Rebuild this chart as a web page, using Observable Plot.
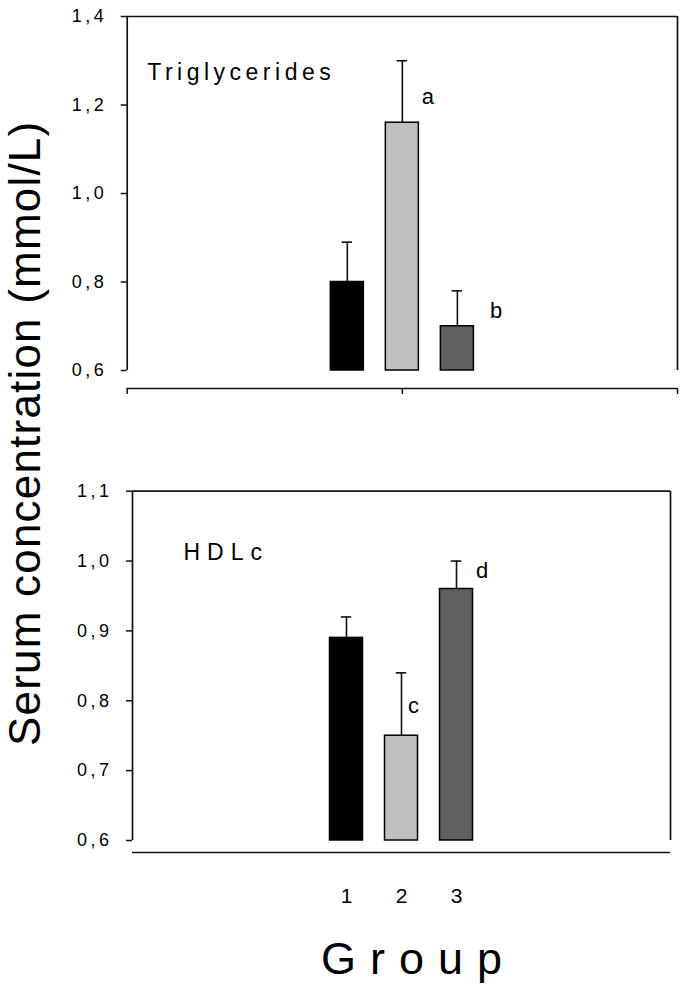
<!DOCTYPE html>
<html><head><meta charset="utf-8">
<script src="https://cdn.jsdelivr.net/npm/d3@7"></script>
<script src="https://cdn.jsdelivr.net/npm/@observablehq/plot@0.6"></script>
<style>
body{margin:0;background:#fff;}
#chart{position:relative;width:685px;height:990px;font-family:"Liberation Sans",Arial,sans-serif;color:#000;overflow:hidden;}
#chart svg{position:absolute;left:0;}
.abs{position:absolute;white-space:nowrap;line-height:1;}
</style></head><body><div id="chart"></div>
<script>
// ---- data ----
const groups = [1, 2, 3];
const groupColors = ["#000000", "#c0c0c0", "#606060"];
const tgMean = [0.80, 1.16, 0.70];
const tgSE = [0.09, 0.14, 0.08];
const hdlMean = [0.89, 0.75, 0.96];
const hdlSE = [0.03, 0.09, 0.04];
const tgTicks = [0.6, 0.8, 1.0, 1.2, 1.4];
const hdlTicks = [0.6, 0.7, 0.8, 0.9, 1.0, 1.1];
const tgLetters = [{group: 2, letter: "a"}, {group: 3, letter: "b"}];
const hdlLetters = [{group: 2, letter: "c"}, {group: 3, letter: "d"}];
const panelTitles = ["Triglycerides", "HDLc"];
const yTitle = "Serum concentration (mmol/L)";
const xTitle = "Group";

// ---- styling (pixel offsets for letter annotations) ----
const letterOffset = {a: [3, 5], b: [16, 2], c: [-10, 2], d: [3, -4]};
const FONT = '"Liberation Sans", Arial, sans-serif';
const LINE = "#111";
const fmt = d => d.toFixed(1).replace(".", ",");

function rowsOf(means, ses) {
  return groups.map((g, i) => ({group: g, mean: means[i], se: ses[i], color: groupColors[i]}));
}

function panelMarks(rows, letters, xDom, yDom, title, titleDx, titleDy) {
  return [
    Plot.rect(rows, {x1: d => d.group - 0.3, x2: d => d.group + 0.3, y1: yDom[0], y2: "mean",
      fill: "color", stroke: "#000", strokeWidth: 1.5}),
    Plot.ruleX(rows, {x: "group", y1: "mean", y2: d => d.mean + d.se, stroke: LINE, strokeWidth: 1.6}),
    Plot.ruleY(rows, {y: d => d.mean + d.se, x1: d => d.group - 0.095, x2: d => d.group + 0.095, stroke: LINE, strokeWidth: 1.6}),
    Plot.ruleX(xDom, {y1: yDom[0], y2: yDom[1], stroke: LINE, strokeWidth: 1.7}),
    Plot.ruleY([yDom[1]], {x1: xDom[0], x2: xDom[1], stroke: LINE, strokeWidth: 1.7}),
    ...letters.map(l => {
      const r = rows.find(d => d.group === l.group);
      return Plot.text([l], {x: d => d.group + 0.3, y: () => r.mean + r.se / 2, text: "letter",
        textAnchor: "start", lineAnchor: "middle", fontSize: 22,
        dx: letterOffset[l.letter][0], dy: letterOffset[l.letter][1]});
    }),
    Plot.text([title], {frameAnchor: "top-left", textAnchor: "start", lineAnchor: "top",
      dx: titleDx, dy: titleDy, fontSize: 23})
  ];
}

const chart = document.getElementById("chart");

// ---- top panel: triglycerides ----
const xDomTop = [-3, 7];
const yDomTop = [0.6, 1.4];
const topRows = rowsOf(tgMean, tgSE);
const topPlot = Plot.plot({
  width: 685, height: 400,
  marginLeft: 126.7, marginRight: 8, marginTop: 16, marginBottom: 12, insetBottom: 18,
  style: {fontFamily: FONT, fontSize: "18px", color: "#000", background: "transparent", overflow: "visible"},
  x: {domain: xDomTop, axis: null},
  y: {domain: yDomTop, axis: null},
  color: {type: "identity"},
  marks: [
    Plot.axisY({ticks: tgTicks, tickFormat: fmt, tickSize: 6, tickPadding: 14, label: null, fontSize: 18, stroke: LINE, strokeWidth: 1.5}),
    Plot.axisX({ticks: [xDomTop[0], 2, xDomTop[1]], tickFormat: () => "", tickSize: 6, label: null, stroke: LINE, strokeWidth: 1.5}),
    Plot.ruleY([yDomTop[0]], {x1: xDomTop[0], x2: xDomTop[1], dy: 18, stroke: LINE, strokeWidth: 1.7}),
    ...panelMarks(topRows, tgLetters, xDomTop, yDomTop, panelTitles[0], 20, 47.5)
  ]
});
topPlot.style.top = "0px";
chart.appendChild(topPlot);

// ---- bottom panel: HDLc ----
const xDomBot = [-2.89, 6.89];
const yDomBot = [0.6, 1.1];
const botRows = rowsOf(hdlMean, hdlSE);
const botPlot = Plot.plot({
  width: 685, height: 590,
  marginLeft: 132, marginRight: 15, marginTop: 90.7, marginBottom: 138, insetBottom: 12,
  style: {fontFamily: FONT, fontSize: "18px", color: "#000", background: "transparent", overflow: "visible"},
  x: {domain: xDomBot, axis: null},
  y: {domain: yDomBot, axis: null},
  color: {type: "identity"},
  marks: [
    Plot.axisY({ticks: hdlTicks, tickFormat: fmt, tickSize: 6, tickPadding: 14, label: null, fontSize: 18, stroke: LINE, strokeWidth: 1.5}),
    Plot.axisX({ticks: groups, tickFormat: d => String(d), tickSize: 0, tickPadding: 36, label: null, fontSize: 21}),
    Plot.ruleY([yDomBot[0]], {x1: xDomBot[0], x2: xDomBot[1], dy: 12, stroke: LINE, strokeWidth: 1.7}),
    ...panelMarks(botRows, hdlLetters, xDomBot, yDomBot, panelTitles[1], 51, 52)
  ]
});
botPlot.style.top = "400px";
chart.appendChild(botPlot);

// font size / letter spacing tweaks
for (const svg of [topPlot, botPlot]) {
  d3.select(svg).selectAll("g[aria-label='y-axis tick label'] text")
    .style("letter-spacing", "3.5px").style("font-size", "18px");
  d3.select(svg).selectAll("g[aria-label='x-axis tick label'] text").style("font-size", "21px");
}
d3.selectAll("#chart svg text").filter(function() { return this.textContent === panelTitles[0]; })
  .style("letter-spacing", "4.5px").style("font-size", "23px");
d3.selectAll("#chart svg text").filter(function() { return this.textContent === panelTitles[1]; })
  .style("letter-spacing", "7px").style("font-size", "23px");

// ---- axis titles ----
const yt = document.createElement("div");
yt.className = "abs";
yt.textContent = yTitle;
Object.assign(yt.style, {left: "3px", top: "746px", fontSize: "44px", letterSpacing: "1.2px",
  transformOrigin: "0 0", transform: "rotate(-90deg)"});
chart.appendChild(yt);

const xt = document.createElement("div");
xt.className = "abs";
xt.textContent = xTitle;
Object.assign(xt.style, {left: "321px", top: "936px", fontSize: "45px", letterSpacing: "14px"});
chart.appendChild(xt);
</script>
</body></html>
